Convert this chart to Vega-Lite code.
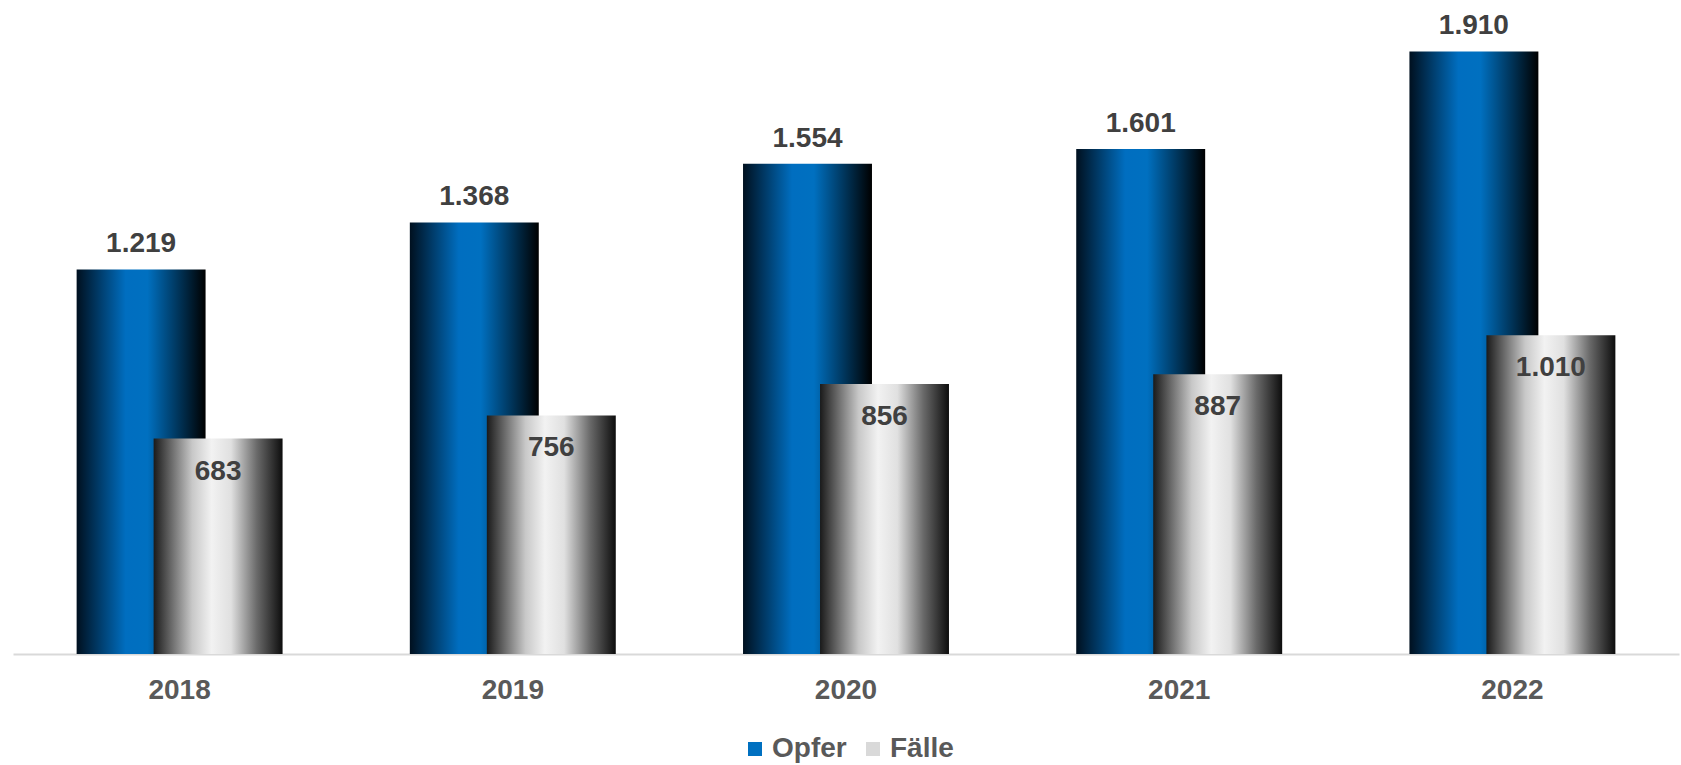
{
  "$schema": "https://vega.github.io/schema/vega-lite/v6.json",
  "width": 1666,
  "height": 631,
  "padding": {"left": 13, "top": 12, "right": 2, "bottom": 0},
  "background": "white",
  "config": {
    "view": {"stroke": null},
    "font": "Liberation Sans",
    "locale": {"number": {"decimal": ",", "thousands": ".", "grouping": [3], "currency": ["", " €"]}}
  },
  "data": {
    "values": [
      {"year": "2018", "series": "Opfer", "value": 1219},
      {"year": "2018", "series": "Fälle", "value": 683},
      {"year": "2019", "series": "Opfer", "value": 1368},
      {"year": "2019", "series": "Fälle", "value": 756},
      {"year": "2020", "series": "Opfer", "value": 1554},
      {"year": "2020", "series": "Fälle", "value": 856},
      {"year": "2021", "series": "Opfer", "value": 1601},
      {"year": "2021", "series": "Fälle", "value": 887},
      {"year": "2022", "series": "Opfer", "value": 1910},
      {"year": "2022", "series": "Fälle", "value": 1010}
    ]
  },
  "encoding": {
    "x": {
      "field": "year", "type": "nominal",
      "scale": {"paddingInner": 0, "paddingOuter": 0},
      "axis": {
        "title": null, "labelAngle": 0, "ticks": false, "labelPadding": 22,
        "labelFont": "Liberation Sans", "labelFontSize": 28, "labelFontWeight": "bold",
        "labelColor": "#595959", "domainColor": "#d9d9d9", "domainWidth": 2, "grid": false
      }
    },
    "y": {
      "field": "value", "type": "quantitative",
      "scale": {"domain": [0, 2000]},
      "axis": null
    }
  },
  "layer": [
    {
      "transform": [{"filter": "datum.series === 'Opfer'"}],
      "mark": {"type": "bar", "width": {"band": 0.387}, "xOffset": -38.5,
        "fill": {"gradient": "linear", "x1": 0, "y1": 0, "x2": 1, "y2": 0, "stops": [
          {"offset": 0, "color": "#00101f"},
          {"offset": 0.38, "color": "#006ec0"},
          {"offset": 0.55, "color": "#0070c0"},
          {"offset": 1, "color": "#000000"}]}}
    },
    {
      "transform": [{"filter": "datum.series === 'Fälle'"}],
      "mark": {"type": "bar", "width": {"band": 0.387}, "xOffset": 38.5,
        "fill": {"gradient": "linear", "x1": 0, "y1": 0, "x2": 1, "y2": 0, "stops": [
          {"offset": 0, "color": "#1a1a1a"},
          {"offset": 0.3, "color": "#c8c8c8"},
          {"offset": 0.45, "color": "#f2f2f2"},
          {"offset": 0.6, "color": "#e0e0e0"},
          {"offset": 0.8, "color": "#6a6a6a"},
          {"offset": 1, "color": "#0d0d0d"}]}}
    },
    {
      "mark": {"type": "square", "size": 0, "opacity": 1, "filled": true},
      "encoding": {
        "color": {
          "field": "series", "type": "nominal",
          "scale": {"domain": ["Opfer", "Fälle"], "range": ["#0070c0", "#d9d9d9"]},
          "legend": {
            "title": null, "orient": "none", "legendX": 728, "legendY": 712, "padding": 0,
            "direction": "horizontal",
            "symbolType": "square", "symbolSize": 196, "symbolStrokeWidth": 0, "symbolOpacity": 1,
            "labelFont": "Liberation Sans", "labelFontSize": 28, "labelFontWeight": "bold",
            "labelColor": "#595959", "columnPadding": 12, "labelOffset": 3,
            "encode": {
              "symbols": {
                "update": {
                  "fill": [
                    {"test": "datum.value === 'Opfer'", "value": {"gradient": "linear", "x1": 0, "y1": 0, "x2": 1, "y2": 0, "stops": [
                      {"offset": 0, "color": "#00101f"}, {"offset": 0.45, "color": "#0070c0"},
                      {"offset": 0.8, "color": "#005a9c"}, {"offset": 1, "color": "#001428"}]}},
                    {"value": {"gradient": "linear", "x1": 0, "y1": 0, "x2": 1, "y2": 0, "stops": [
                      {"offset": 0, "color": "#111111"}, {"offset": 0.5, "color": "#f2f2f2"},
                      {"offset": 0.8, "color": "#c8c8c8"}, {"offset": 1, "color": "#707070"}]}}
                  ]
                }
              }
            }
          }
        }
      }
    },
    {
      "transform": [{"filter": "datum.series === 'Opfer'"}],
      "mark": {"type": "text", "xOffset": -38.5, "dy": -17, "baseline": "alphabetic",
        "font": "Liberation Sans", "fontSize": 28, "fontWeight": "bold", "fill": "#404040"},
      "encoding": {"text": {"field": "value", "type": "quantitative", "format": ",d"}}
    },
    {
      "transform": [{"filter": "datum.series === 'Fälle'"}],
      "mark": {"type": "text", "xOffset": 38.5, "dy": 41, "baseline": "alphabetic",
        "font": "Liberation Sans", "fontSize": 28, "fontWeight": "bold", "fill": "#404040"},
      "encoding": {"text": {"field": "value", "type": "quantitative", "format": ",d"}}
    }
  ]
}
